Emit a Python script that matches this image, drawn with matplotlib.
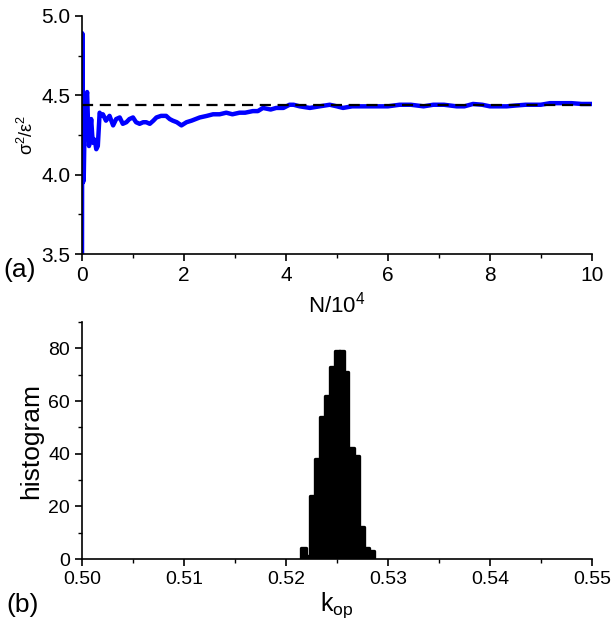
import matplotlib
matplotlib.use("Agg")
import matplotlib.pyplot as plt
from matplotlib.ticker import MultipleLocator

plt.rcParams['font.family'] = ['Liberation Sans', 'DejaVu Sans']
plt.rcParams['mathtext.fontset'] = 'custom'
plt.rcParams['mathtext.rm'] = 'Liberation Sans'
plt.rcParams['mathtext.it'] = 'Liberation Sans:italic'

# (a) running estimate of sigma^2/eps^2 vs N/10^4
n_vals = [0.0, 0.005, 0.01, 0.015, 0.02, 0.033, 0.05, 0.07, 0.1, 0.12, 0.137, 0.16,
          0.18, 0.2, 0.216, 0.25, 0.28, 0.31, 0.346, 0.38, 0.41, 0.47, 0.54, 0.61,
          0.67, 0.74, 0.8, 0.87, 0.93, 1.0, 1.06, 1.13, 1.2, 1.26, 1.33, 1.4, 1.46,
          1.55, 1.65, 1.72, 1.78, 1.86, 1.95, 2.05, 2.15, 2.31, 2.45, 2.57, 2.7,
          2.83, 2.95, 3.09, 3.2, 3.35, 3.45, 3.55, 3.7, 3.81, 3.95, 4.07, 4.15,
          4.27, 4.47, 4.66, 4.86, 5.0, 5.12, 5.3, 5.58, 5.8, 6.0, 6.23, 6.45, 6.7,
          6.89, 7.1, 7.35, 7.5, 7.67, 7.85, 8.0, 8.15, 8.33, 8.5, 8.7, 8.85, 9.0,
          9.18, 9.4, 9.6, 9.8, 10.0]
ratio = [3.50, 4.89, 4.20, 3.95, 4.05, 3.96, 4.30, 4.45, 4.52, 4.30, 4.18, 4.28,
         4.35, 4.25, 4.20, 4.22, 4.16, 4.18, 4.39, 4.37, 4.38, 4.34, 4.37, 4.31,
         4.35, 4.36, 4.32, 4.33, 4.35, 4.36, 4.33, 4.32, 4.33, 4.33, 4.32, 4.34,
         4.36, 4.37, 4.37, 4.35, 4.34, 4.33, 4.31, 4.33, 4.34, 4.36, 4.37, 4.38,
         4.38, 4.39, 4.38, 4.39, 4.39, 4.40, 4.40, 4.42, 4.41, 4.42, 4.42, 4.44,
         4.44, 4.43, 4.42, 4.43, 4.44, 4.43, 4.42, 4.43, 4.43, 4.43, 4.43, 4.44,
         4.44, 4.43, 4.44, 4.44, 4.43, 4.43, 4.445, 4.44, 4.43, 4.43, 4.43, 4.435,
         4.44, 4.44, 4.44, 4.45, 4.45, 4.45, 4.445, 4.445]
ref_level = 4.44

# (b) histogram of k_op
k_centers = [0.52175, 0.52222, 0.5226, 0.52309, 0.52358, 0.52407, 0.52456, 0.52505,
             0.52545, 0.5259, 0.52642, 0.52692, 0.5274, 0.5279, 0.5284]
k_counts = [4, 1, 24, 38, 54, 62, 73, 79, 79, 71, 42, 39, 12, 4, 3]

fig = plt.figure(figsize=(6.12, 6.32), dpi=100)
ax1 = fig.add_axes([0.134, 0.598, 0.833, 0.377])
ax2 = fig.add_axes([0.134, 0.1155, 0.833, 0.375])

ax1.plot(n_vals, ratio, color='#0000ff', lw=3.2, solid_joinstyle='round')
ax1.axhline(ref_level, color='black', lw=1.6, ls=(0, (5, 3)), zorder=3)
ax1.set_xlim(0, 10)
ax1.set_ylim(3.5, 5.0)
ax1.xaxis.set_major_locator(MultipleLocator(2))
ax1.xaxis.set_minor_locator(MultipleLocator(1))
ax1.yaxis.set_major_locator(MultipleLocator(0.5))
ax1.yaxis.set_minor_locator(MultipleLocator(0.25))
ax1.yaxis.set_major_formatter(plt.FormatStrFormatter('%.1f'))
ax1.set_xlabel(r'N/10$^4$', fontsize=16, labelpad=5)
ax1.set_ylabel(r'σ$^2$/ε$^2$', fontsize=13, labelpad=3)

ax2.bar(k_centers, k_counts, width=0.00046, color='black', edgecolor='black',
        linewidth=2.4, joinstyle='round')
ax2.set_xlim(0.50, 0.55)
ax2.set_ylim(0, 90)
ax2.xaxis.set_major_locator(MultipleLocator(0.01))
ax2.xaxis.set_minor_locator(MultipleLocator(0.005))
ax2.yaxis.set_major_locator(MultipleLocator(20))
ax2.yaxis.set_minor_locator(MultipleLocator(10))
ax2.xaxis.set_major_formatter(plt.FormatStrFormatter('%.2f'))
ax2.set_xlabel(r'k$_{\rm op}$', fontsize=18, labelpad=2)
ax2.set_ylabel('histogram', fontsize=19, labelpad=4)

for ax, ls in ((ax1, 15), (ax2, 14)):
    ax.spines['top'].set_visible(False)
    ax.spines['right'].set_visible(False)
    ax.spines['left'].set_linewidth(1.2)
    ax.spines['bottom'].set_linewidth(1.2)
    ax.tick_params(which='major', direction='out', length=5, width=1.2, labelsize=ls)
    ax.tick_params(which='minor', direction='out', length=3, width=1.0)

fig.text(0.006, 0.573, '(a)', fontsize=19, va='center')
fig.text(0.011, 0.043, '(b)', fontsize=19, va='center')

plt.savefig('out.png', dpi=100)
